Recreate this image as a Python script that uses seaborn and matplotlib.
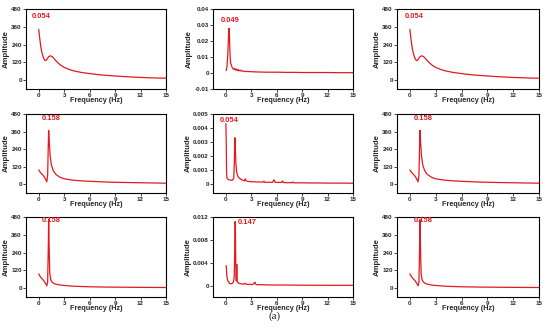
import matplotlib
matplotlib.use("Agg")
import matplotlib.pyplot as plt
import seaborn as sns
import pandas as pd

sns.set_style("ticks")
plt.rcParams['font.family'] = ['Liberation Sans', 'DejaVu Sans']

# ---------------- data ----------------
freq_a = [0, 0.1, 0.2, 0.3, 0.45, 0.6, 0.75, 0.9, 1.05, 1.2, 1.4, 1.6, 1.8, 2.0, 2.3, 2.6,
          3.0, 3.5, 4, 5, 6, 7, 8, 9, 10, 11, 12, 13, 14, 15]
amp_a = [342, 290, 245, 205, 170, 145, 132, 135, 148, 160, 164, 158, 146, 132, 115, 100,
         86, 74, 64, 52, 44, 37, 32, 28, 24, 21, 18, 16, 14, 13]

freq_b = [0.05, 0.15, 0.25, 0.32, 0.38, 0.44, 0.5, 0.58, 0.66, 0.75, 0.85, 0.95, 1.05, 1.15,
          1.25, 1.35, 1.45, 1.55, 1.7, 1.85, 2.0, 2.2, 2.5, 3, 3.5, 4, 5, 6, 7, 8, 9, 10,
          11, 12, 13, 14, 15]
amp_b = [0.0015, 0.004, 0.012, 0.022, 0.028, 0.024, 0.012, 0.006, 0.005, 0.0035, 0.0028,
         0.0022, 0.0028, 0.0018, 0.0025, 0.0015, 0.0022, 0.0013, 0.0018, 0.0011, 0.0014,
         0.0009, 0.001, 0.0008, 0.0007, 0.0006, 0.0005, 0.0005, 0.0004, 0.0004, 0.0003,
         0.0003, 0.0003, 0.0003, 0.0002, 0.0002, 0.0002]

freq_c = [0, 0.2, 0.4, 0.6, 0.8, 0.95, 1.05, 1.12, 1.17, 1.25, 1.35, 1.5, 1.7, 2.0, 2.5, 3,
          4, 5, 6, 8, 10, 12, 15]
amp_c = [98, 80, 68, 55, 35, 16, 60, 250, 368, 280, 190, 130, 95, 68, 48, 37, 28, 23, 20,
         15, 12, 10, 7]

freq_d = [0, 0.2, 0.4, 0.6, 0.8, 0.95, 1.05, 1.12, 1.17, 1.22, 1.3, 1.4, 1.55, 1.75, 2.0,
          2.5, 3, 4, 5, 6, 8, 10, 12, 15]
amp_d = [96, 75, 62, 50, 32, 16, 40, 250, 462, 300, 100, 60, 42, 33, 27, 21, 18, 13, 11, 9,
         7, 6, 5, 4]

freq_e = [0.02, 0.06, 0.1, 0.15, 0.25, 0.4, 0.6, 0.8, 0.95, 1.02, 1.07, 1.1, 1.14, 1.2, 1.3,
          1.45, 1.7, 2.0, 2.2, 2.3, 2.4, 2.7, 3.0, 3.5, 4.0, 4.4, 4.5, 4.6, 5.0, 5.5, 5.7,
          5.8, 6.2, 6.6, 6.7, 6.8, 7.3, 7.8, 7.9, 8.0, 9, 10, 11, 12, 13, 14, 15]
amp_e = [0.0043, 0.003, 0.0008, 0.0004, 0.00032, 0.00028, 0.00025, 0.00025, 0.0004, 0.0016,
         0.0033, 0.0032, 0.0025, 0.0014, 0.0008, 0.0005, 0.00035, 0.00025, 0.0002, 0.00035,
         0.0002, 0.00016, 0.00014, 0.00013, 0.00012, 0.00011, 0.00018, 0.0001, 0.0001,
         0.0001, 0.00028, 0.0001, 0.00009, 0.00009, 0.0002, 0.00008, 0.00007, 0.00007,
         0.00012, 0.00006, 0.00006, 0.00005, 0.00005, 0.00004, 0.00004, 0.00004, 0.00003]

freq_f = [0.05, 0.08, 0.12, 0.2, 0.3, 0.45, 0.6, 0.75, 0.9, 1.0, 1.06, 1.1, 1.14, 1.18, 1.22,
          1.26, 1.3, 1.34, 1.4, 1.55, 1.8, 2.1, 2.3, 2.45, 2.8, 3.2, 3.45, 3.5, 3.6, 4, 5, 6,
          7, 8, 9, 10, 12, 15]
amp_f = [0.0035, 0.0030, 0.0018, 0.0011, 0.0007, 0.0004, 0.0003, 0.00035, 0.0006, 0.0015,
         0.006, 0.0112, 0.0105, 0.004, 0.0012, 0.0008, 0.0037, 0.0009, 0.0006, 0.0004,
         0.0003, 0.00025, 0.0004, 0.00022, 0.0002, 0.0002, 0.0006, 0.0003, 0.00018, 0.00015,
         0.00012, 0.0001, 0.0001, 0.00008, 0.00007, 0.00006, 0.00005, 0.00004]

peak_labels = ["0.054", "0.049", "0.054",
               "0.158", "0.054", "0.158",
               "0.158", "0.147", "0.158"]

x_ticks = [0, 3, 6, 9, 12, 15]
amp_ticks = [0, 120, 240, 360, 480]
amp_ticklabels = ["0", "120", "240", "360", "480"]
b_ticks = [-0.01, 0, 0.01, 0.02, 0.03, 0.04]
b_ticklabels = ["-0.01", "0", "0.01", "0.02", "0.03", "0.04"]
e_ticks = [0, 0.001, 0.002, 0.003, 0.004, 0.005]
e_ticklabels = ["0", "0.001", "0.002", "0.003", "0.004", "0.005"]
f_ticks = [0, 0.004, 0.008, 0.012]
f_ticklabels = ["0", "0.004", "0.008", "0.012"]

# ---------------- figure ----------------
W, H = 550, 329
fig = plt.figure(figsize=(W / 100, H / 100), dpi=100)
RED = "#e3191e"

col_l = [26, 213, 397]
col_w = [140, 140, 142]
row_t = [9, 114, 217]
row_b = [89, 193, 297]

panels = [
    (freq_a, amp_a, (-60, 480), amp_ticks, amp_ticklabels, (-0.8, 426)),
    (freq_b, amp_b, (-0.01, 0.04), b_ticks, b_ticklabels, (-0.56, 0.033)),
    (freq_a, amp_a, (-60, 480), amp_ticks, amp_ticklabels, (-0.57, 426)),
    (freq_c, amp_c, (-60, 480), amp_ticks, amp_ticklabels, (0.35, 450)),
    (freq_e, amp_e, (-0.00067, 0.005), e_ticks, e_ticklabels, (-0.68, 0.0045)),
    (freq_c, amp_c, (-60, 480), amp_ticks, amp_ticklabels, (0.45, 450)),
    (freq_d, amp_d, (-60, 480), amp_ticks, amp_ticklabels, (0.35, 457)),
    (freq_f, amp_f, (-0.002, 0.012), f_ticks, f_ticklabels, (1.45, 0.0111)),
    (freq_d, amp_d, (-60, 480), amp_ticks, amp_ticklabels, (0.45, 457)),
]

for i, (fx, fy, ylim, yt, ytl, txy) in enumerate(panels):
    r, c = divmod(i, 3)
    left = col_l[c] / W
    bottom = 1 - row_b[r] / H
    width = col_w[c] / W
    height = (row_b[r] - row_t[r]) / H
    ax = fig.add_axes([left, bottom, width, height])
    df = pd.DataFrame({"Frequency": fx, "Amplitude": fy})
    sns.lineplot(data=df, x="Frequency", y="Amplitude", ax=ax, color=RED,
                 linewidth=0.9, sort=False, estimator=None)
    ax.set_xlim(-1.5, 15)
    ax.set_ylim(*ylim)
    ax.set_xticks(x_ticks)
    ax.set_xticklabels([str(t) for t in x_ticks])
    ax.set_yticks(yt)
    ax.set_yticklabels(ytl)
    for lab in ax.get_xticklabels() + ax.get_yticklabels():
        lab.set_fontweight("bold")
    ax.tick_params(axis="both", labelsize=4.5, length=2, width=0.6, pad=1,
                   direction="out")
    for s in ax.spines.values():
        s.set_linewidth(0.8)
        s.set_color("black")
        s.set_visible(True)
    ax.set_xlabel("Frequency (Hz)", fontsize=5.2, fontweight="bold", labelpad=-0.8)
    ax.set_ylabel("Amplitude", fontsize=5.6, fontweight="bold", labelpad=1)
    ax.text(txy[0], txy[1], peak_labels[i], color=RED, fontsize=5.4,
            fontweight="bold", ha="left", va="center")

fig.text(275 / W, 1 - 316 / H, "(a)", family=["Liberation Serif", "DejaVu Serif"],
         fontsize=8, fontstyle="normal", fontweight="normal",
         ha="center", va="center")

fig.savefig("out.png", dpi=100)
